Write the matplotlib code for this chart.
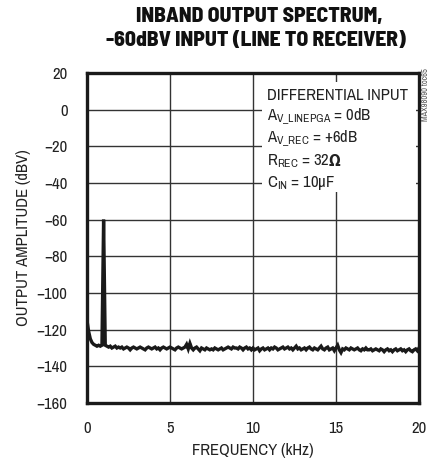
import numpy as np
import matplotlib
matplotlib.use("Agg")
import matplotlib.pyplot as plt
from matplotlib.patches import Rectangle

NARROW = "Archivo Narrow"
plt.rcParams["font.family"] = [NARROW, "DejaVu Sans"]
plt.rcParams["mathtext.fontset"] = "custom"
plt.rcParams["mathtext.rm"] = NARROW
plt.rcParams["mathtext.it"] = NARROW
plt.rcParams["mathtext.default"] = "regular"

title_lines = ["INBAND OUTPUT SPECTRUM,", "-60dBV INPUT (LINE TO RECEIVER)"]
x_label = "FREQUENCY (kHz)"
y_label = "OUTPUT AMPLITUDE (dBV)"
x_ticks = [0, 5, 10, 15, 20]
y_ticks = [20, 0, -20, -40, -60, -80, -100, -120, -140, -160]

# spectrum, 0.1 kHz steps from 0 to 20 kHz
amplitude = [
    -115, -121, -125, -127, -128, -128.5, -129, -128.5, -129, -128.5,
    -60,
    -128.5, -129, -129.5, -129, -130, -129.5, -129, -130, -129.5,
    -130, -129.5, -130.5, -130, -129.5, -130, -131, -130, -129.5, -130,
    -130.5, -130, -129.5, -130, -130.5, -131, -130, -129.5, -130, -130.5,
    -130, -129.5, -130.5, -130, -131, -130, -129.5, -130, -130.5, -130,
    -129.5, -130, -130.5, -131, -130, -129.5, -130, -130.5, -130, -129.5,
    -128, -130.5, -127.5, -130, -131, -130, -129.5, -130.5, -131.5, -130,
    -130.5, -131, -130, -130.5, -131, -130.5, -131, -130, -130.5, -131,
    -130.5, -130, -131, -130.5, -130, -129.5, -130, -130.5, -129.5, -130,
    -130, -130.5, -129.5, -130, -131, -130, -129.5, -130.5, -130, -131,
    -130, -131, -130.5, -130, -131.5, -130.5, -130, -131, -130.5, -130,
    -131, -130, -130.5, -129.5, -130, -131, -130.5, -130, -129.5, -130.5,
    -130, -129.5, -130.5, -130, -131, -130, -129, -130.5, -130, -131,
    -130.5, -130, -131, -130, -129.5, -130.5, -131, -130, -130.5, -131,
    -130, -129, -130.5, -131, -130, -129.5, -131, -130.5, -130, -131.5,
    -130, -128.5, -131, -132.5, -130.5, -131, -130, -130.5, -131, -130,
    -130.5, -131, -130.5, -130, -131, -131.5, -130.5, -131, -130, -131,
    -131, -130.5, -131.5, -131, -130.5, -131, -131.5, -130.5, -131, -132,
    -131, -130.5, -131.5, -131, -132, -131, -130.5, -131.5, -131, -130.5,
    -131.5, -131, -132, -131, -130.5, -131.5, -132, -131, -130.5, -131.5, -130,
]
frequency = np.linspace(0, 20, len(amplitude))

fig = plt.figure(figsize=(4.30, 4.65), dpi=100)
ax = fig.add_axes([87/430, 1-403/465, 332/430, 330/465])

ax.plot(frequency, amplitude, color="#1a1a1a", lw=2.4, zorder=3, solid_joinstyle="miter")
ax.set_xlim(0, 20)
ax.set_ylim(-160, 20)
ax.set_xticks(x_ticks)
ax.set_yticks(y_ticks)
ax.grid(True, color="#333333", lw=1.0, zorder=1)
ax.tick_params(length=0, labelsize=12, colors="#222222")
ax.tick_params(axis="y", pad=14)
ax.tick_params(axis="x", pad=13)
for s in ax.spines.values():
    s.set_linewidth(2.4)
    s.set_color("#1a1a1a")
    s.set_zorder(4)

ax.set_xlabel(x_label, fontsize=12, color="#222222", labelpad=5)
ax.set_ylabel(y_label, fontsize=12, color="#222222", labelpad=4)

TITLE_FONT = ["Barlow Semi Condensed", "Barlow Condensed", "DejaVu Sans"]
fig.text(259/430, 1-17/465, title_lines[0], ha="center", va="center",
         fontsize=15.5, fontweight=800, family=TITLE_FONT, color="#111111")
fig.text(256/430, 1-41/465, title_lines[1], ha="center", va="center",
         fontsize=15.5, fontweight=800, family=TITLE_FONT, color="#111111")

# legend box covering the grid
ax.add_patch(Rectangle((262/430, 1-192/465), (416-262)/430, (192-82)/465,
                       transform=fig.transFigure, facecolor="white",
                       edgecolor="none", zorder=2))
notes = [
    "DIFFERENTIAL INPUT",
    r"A$_{V\_LINEPGA}$ = 0dB",
    r"A$_{V\_REC}$ = +6dB",
    r"R$_{REC}$ = 32",
    r"C$_{IN}$ = 10µF",
]
renderer = fig.canvas.get_renderer()
for i, t in enumerate(notes):
    txt = fig.text(267/430, 1-(95 + 22*i)/465, t, ha="left", va="center",
                   fontsize=12, color="#222222", zorder=5)
    if i == 3:
        bb = txt.get_window_extent(renderer=renderer)
        fig.text((bb.x1 - 1.5)/430, 1-(95 + 22*i)/465, "Ω", ha="left", va="center",
                 fontsize=11, fontweight="bold", family="DejaVu Sans",
                 fontstretch="condensed", color="#222222", zorder=5)

fig.text(425/430, 1-95/465, "MAX98090 toc65", rotation=90, ha="center",
         va="center", fontsize=6, color="#555555")

fig.savefig("out.png", dpi=100)
